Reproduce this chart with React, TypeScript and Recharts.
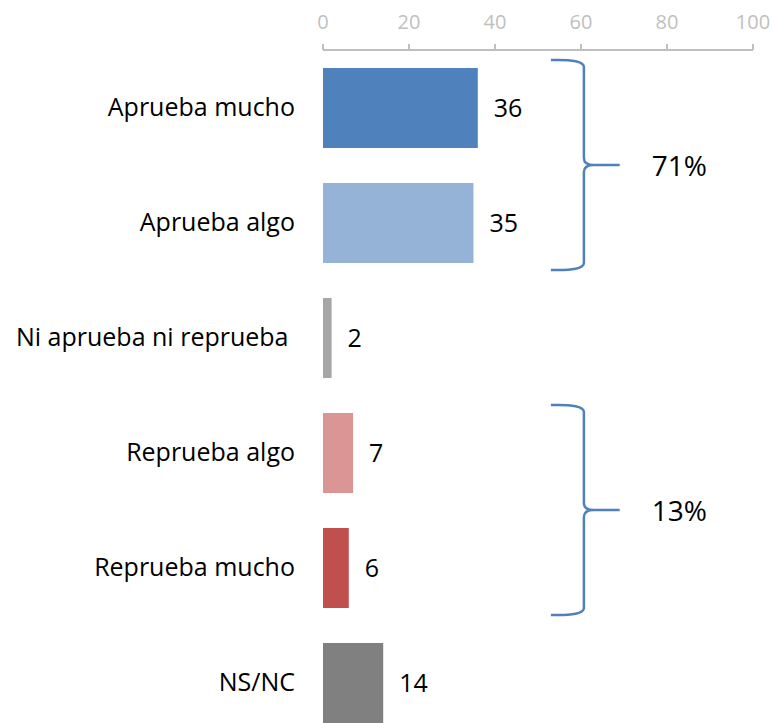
import React from "react"
import {
  Bar,
  BarChart,
  Cell,
  LabelList,
  ReferenceArea,
  XAxis,
  YAxis,
} from "recharts"

const categories = [
  "Aprueba mucho",
  "Aprueba algo",
  "Ni aprueba ni reprueba\u00A0",
  "Reprueba algo",
  "Reprueba mucho",
  "NS/NC",
]
const values = [36, 35, 2, 7, 6, 14]
const xTicks = [0, 20, 40, 60, 80, 100]

// grouped totals shown with a brace
const groupFrom = ["Aprueba mucho", "Reprueba algo"]
const groupTo = ["Aprueba algo", "Reprueba mucho"]
const groupLabels = ["71%", "13%"]

const barColors = ["#4F81BD", "#95B3D7", "#A6A6A6", "#DA9694", "#C0504D", "#808080"]
const axisGray = "#BFBFBF"
const braceBlue = "#4F81BD"
const font = "'Open Sans', sans-serif"

const data = categories.map((name, i) => ({ name, value: values[i] }))

const Brace = (props: any) => {
  const { x, y, width, height, text } = props
  const y0 = y + 10
  const y1 = y + height - 10
  const ym = (y0 + y1) / 2
  const tip = x
  const vx = x + 33
  const px = x + width
  const d = [
    `M ${tip} ${y0}`,
    `Q ${vx} ${y0 - 1} ${vx} ${y0 + 7}`,
    `L ${vx} ${ym - 7}`,
    `Q ${vx} ${ym} ${vx + 10} ${ym}`,
    `L ${px} ${ym}`,
    `M ${vx + 10} ${ym}`,
    `Q ${vx} ${ym} ${vx} ${ym + 7}`,
    `L ${vx} ${y1 - 7}`,
    `Q ${vx} ${y1 + 1} ${tip} ${y1}`,
  ].join(" ")
  return (
    <g>
      <path d={d} fill="none" stroke={braceBlue} strokeWidth={2.5} />
      <text
        x={px + 32}
        y={ym + 4}
        dominantBaseline="middle"
        fontSize={28}
        fontFamily={font}
        fill="#000"
      >
        {text}
      </text>
    </g>
  )
}

export default function App() {
  return (
    <div
      style={{
        position: "absolute",
        left: 0,
        top: 0,
        width: 773,
        height: 723,
        overflow: "hidden",
        fontFamily: font,
      }}
    >
      <div style={{ marginLeft: 8, marginTop: 8 }}>
        <BarChart
          width={765}
          height={740}
          data={data}
          layout="vertical"
          margin={{ top: 0, right: 20, bottom: 8, left: 0 }}
          style={{ overflow: "visible" }}
        >
          <XAxis
            type="number"
            orientation="top"
            domain={[0, 100]}
            ticks={xTicks}
            interval={0}
            height={42}
            axisLine={{ stroke: axisGray, strokeWidth: 2 }}
            tickLine={{ stroke: axisGray, strokeWidth: 2 }}
            tickSize={6}
            tickMargin={15}
            tick={{ fill: axisGray, fontSize: 20, fontFamily: font }}
          />
          <YAxis
            type="category"
            dataKey="name"
            width={315}
            axisLine={false}
            tickLine={false}
            tickSize={0}
            tickMargin={28}
            tick={{ fill: "#000", fontSize: 25, fontFamily: font }}
          />
          <Bar dataKey="value" barSize={80} isAnimationActive={false}>
            {data.map((d, i) => (
              <Cell key={d.name} fill={barColors[i]} />
            ))}
            <LabelList
              dataKey="value"
              position="right"
              offset={16}
              fill="#000"
              fontSize={25}
              fontFamily={font}
            />
          </Bar>
          {groupLabels.map((label, i) => (
            <ReferenceArea
              key={label}
              x1={53}
              x2={69}
              y1={groupFrom[i]}
              y2={groupTo[i]}
              ifOverflow="visible"
              shape={(p: any) => <Brace {...p} text={label} />}
            />
          ))}
        </BarChart>
      </div>
    </div>
  )
}
